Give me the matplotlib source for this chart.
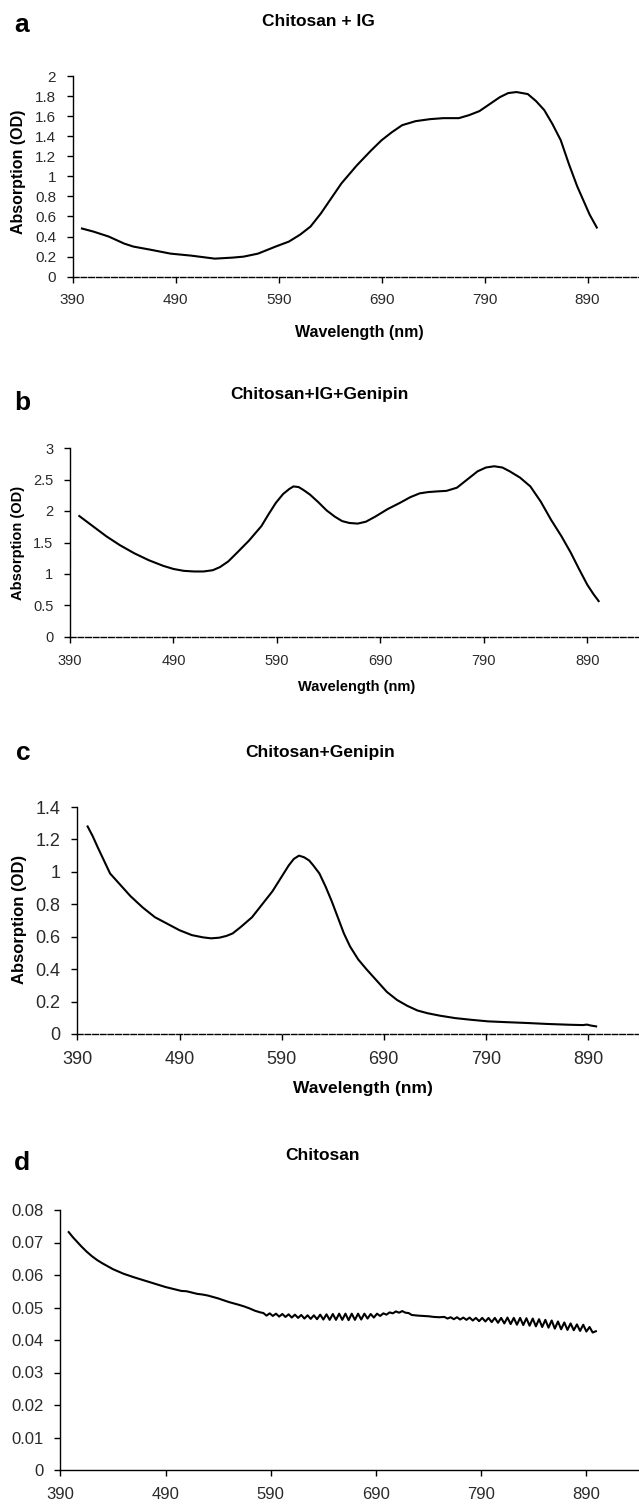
import numpy as np
import matplotlib
matplotlib.use("Agg")
import matplotlib.pyplot as plt

# ---- data ----
wl_a = [399, 410, 425, 440, 449, 465, 485, 505, 528, 545, 556, 570, 587, 600, 611, 621,
        631, 641, 651, 666, 680, 690, 700, 710, 723, 737, 750, 765, 775, 785, 795, 805,
        813, 821, 832, 840, 848, 856, 864, 872, 880, 886, 892, 899]
abs_a = [0.48, 0.45, 0.40, 0.33, 0.30, 0.27, 0.23, 0.21, 0.18, 0.19, 0.20, 0.23, 0.30, 0.35,
         0.42, 0.50, 0.63, 0.78, 0.93, 1.11, 1.26, 1.36, 1.44, 1.51, 1.55, 1.57, 1.58, 1.58,
         1.61, 1.65, 1.72, 1.79, 1.83, 1.84, 1.82, 1.75, 1.66, 1.52, 1.36, 1.12, 0.90, 0.76,
         0.62, 0.49]

wl_b = [399, 412, 425, 438, 452, 466, 480, 490, 500, 510, 519, 528, 535, 543, 551, 563,
        575, 582, 589, 596, 602, 606, 611, 616, 622, 630, 638, 646, 653, 660, 668, 676,
        685, 697, 709, 719, 728, 736, 744, 754, 764, 774, 784, 792, 800, 808, 815, 825,
        835, 845, 855, 865, 874, 882, 890, 896, 901]
abs_b = [1.92, 1.76, 1.60, 1.46, 1.33, 1.22, 1.13, 1.08, 1.05, 1.04, 1.04, 1.06, 1.11, 1.20,
         1.33, 1.53, 1.76, 1.95, 2.13, 2.27, 2.35, 2.39, 2.38, 2.33, 2.26, 2.14, 2.01, 1.91,
         1.84, 1.81, 1.80, 1.83, 1.91, 2.03, 2.13, 2.22, 2.28, 2.30, 2.31, 2.32, 2.37, 2.50,
         2.63, 2.69, 2.71, 2.69, 2.63, 2.53, 2.39, 2.15, 1.86, 1.60, 1.34, 1.08, 0.83, 0.68,
         0.57]

wl_c = [400, 405, 410, 416, 422, 432, 442, 454, 466, 478, 490, 502, 513, 521, 529, 536,
        542, 550, 561, 571, 581, 590, 597, 602, 607, 612, 617, 621, 627, 633, 639, 645,
        651, 657, 665, 673, 683, 693, 703, 713, 723, 733, 745, 760, 775, 792, 810, 830,
        850, 872, 885, 889, 893, 898]
abs_c = [1.28, 1.22, 1.15, 1.07, 0.99, 0.92, 0.85, 0.78, 0.72, 0.68, 0.64, 0.61, 0.596,
         0.59, 0.594, 0.605, 0.62, 0.66, 0.72, 0.80, 0.88, 0.97, 1.04, 1.08, 1.10, 1.09,
         1.07, 1.04, 0.99, 0.91, 0.82, 0.72, 0.62, 0.54, 0.46, 0.40, 0.33, 0.26, 0.21,
         0.174, 0.145, 0.128, 0.113, 0.098, 0.088, 0.078, 0.073, 0.068, 0.062, 0.057,
         0.055, 0.058, 0.052, 0.047]

wl_d = [398, 402, 406, 410, 415, 420, 425, 430, 440, 450, 460, 470, 480, 490, 500, 505,
        510, 515, 520, 525, 530, 540, 550, 560, 565, 570, 575, 580,
        583, 586, 589, 592, 595, 598, 601, 604, 607, 610, 613, 616, 619, 622, 625, 628,
        631, 634, 637, 640, 643, 646, 649, 652, 655, 658, 661, 664, 667, 670, 673, 676,
        679, 682, 685, 688, 691, 694, 697, 700, 703, 706, 709, 712, 715, 718, 721, 724,
        727, 730, 735, 740, 745, 750, 755, 758, 761, 764, 767, 770, 773, 776, 779, 782,
        785, 788, 791, 794, 797, 800, 803, 806, 809, 812, 815, 818, 821, 824, 827, 830,
        833, 836, 839, 842, 845, 848, 851, 854, 857, 860, 863, 866, 869, 872, 875, 878,
        881, 884, 887, 890, 893, 896, 899]
abs_d = [0.0732, 0.0716, 0.0702, 0.0688, 0.0672, 0.0658, 0.0646, 0.0636, 0.0618, 0.0604,
         0.0593, 0.0583, 0.0573, 0.0563, 0.0555, 0.0551, 0.0550, 0.0546, 0.0542, 0.0540,
         0.0537, 0.0528, 0.0517, 0.0508, 0.0503, 0.0497, 0.0490, 0.0485,
         0.0483, 0.0475, 0.0482, 0.0474, 0.0481, 0.0472, 0.0480, 0.0471, 0.0479, 0.0469,
         0.0478, 0.0468, 0.0477, 0.0466, 0.0476, 0.0465, 0.0476, 0.0464, 0.0478, 0.0463,
         0.0479, 0.0462, 0.0480, 0.0462, 0.0481, 0.0462, 0.0481, 0.0461, 0.0481, 0.0462,
         0.0481, 0.0463, 0.0481, 0.0466, 0.0480, 0.0469, 0.0481, 0.0474, 0.0482, 0.0478,
         0.0485, 0.0482, 0.0488, 0.0484, 0.0489, 0.0484, 0.0483, 0.0477, 0.0476, 0.0475,
         0.0474, 0.0473, 0.0471, 0.0470, 0.0471, 0.0466, 0.0470, 0.0464, 0.0470, 0.0463,
         0.0469, 0.0462, 0.0469, 0.0460, 0.0468, 0.0458, 0.0468, 0.0457, 0.0468, 0.0455,
         0.0468, 0.0453, 0.0468, 0.0451, 0.0469, 0.0449, 0.0468, 0.0447, 0.0468, 0.0446,
         0.0467, 0.0444, 0.0466, 0.0442, 0.0464, 0.0440, 0.0462, 0.0438, 0.0460, 0.0435,
         0.0457, 0.0433, 0.0454, 0.0431, 0.0451, 0.0430, 0.0448, 0.0428, 0.0447, 0.0426,
         0.0440, 0.0423, 0.0427]

x_ticks = [390, 490, 590, 690, 790, 890]
y_ticks_a = [0, 0.2, 0.4, 0.6, 0.8, 1, 1.2, 1.4, 1.6, 1.8, 2]
y_ticks_b = [0, 0.5, 1, 1.5, 2, 2.5, 3]
y_ticks_c = [0, 0.2, 0.4, 0.6, 0.8, 1, 1.2, 1.4]
y_ticks_d = [0, 0.01, 0.02, 0.03, 0.04, 0.05, 0.06, 0.07, 0.08]

titles = ["Chitosan + IG", "Chitosan+IG+Genipin", "Chitosan+Genipin", "Chitosan"]
letters = ["a", "b", "c", "d"]

W, H = 639, 1505
plt.rcParams['font.family'] = ['Liberation Sans', 'DejaVu Sans']
narrow = ['Liberation Sans Narrow', 'Liberation Sans']

fig = plt.figure(figsize=(W / 100, H / 100), dpi=100)


def make_panel(rect, wl, vals, yticks, tick_size, dashed=True):
    ax = fig.add_axes(rect)
    ax.plot(wl, vals, color='black', lw=1.5, solid_joinstyle='round')
    ax.set_xlim(390, 940)
    ax.set_ylim(0, yticks[-1])
    ax.set_xticks(x_ticks)
    ax.set_yticks(yticks)
    ax.set_xticklabels([str(t) for t in x_ticks], family=narrow, fontsize=tick_size, color='#2a2a2a')
    ax.set_yticklabels(['%g' % t for t in yticks], family=narrow, fontsize=tick_size, color='#2a2a2a')
    for s in ['top', 'right']:
        ax.spines[s].set_visible(False)
    ax.spines['left'].set_linewidth(1.0)
    ax.spines['bottom'].set_linewidth(1.0)
    if dashed:
        ax.spines['bottom'].set_linestyle((0, (4, 1.5)))
    ax.tick_params(axis='x', direction='out', length=4, width=1, pad=8)
    ax.tick_params(axis='y', direction='out', length=4, width=1, pad=8)
    ax.patch.set_alpha(0)
    return ax


def px(x, y):
    return x / W, 1 - y / H


make_panel([72.7 / W, 1 - 276.7 / H, 1 - 72.7 / W, 200.7 / H], wl_a, abs_a, y_ticks_a, 11)
make_panel([70 / W, 1 - 637 / H, 1 - 70 / W, 189 / H], wl_b, abs_b, y_ticks_b, 10.5)
make_panel([77.4 / W, 1 - 1034 / H, 1 - 77.4 / W, 227 / H], wl_c, abs_c, y_ticks_c, 13)
make_panel([60.3 / W, 1 - 1470 / H, 1 - 60.3 / W, 260 / H], wl_d, abs_d, y_ticks_d, 12, dashed=False)

# panel letters and titles
letter_pos = [(22, 25), (22, 403), (23, 753), (22, 1163)]
title_pos = [(318, 22), (319, 395), (320, 752), (323, 1155)]
for let, (lx, ly), t, (tx, ty) in zip(letters, letter_pos, titles, title_pos):
    fig.text(*px(lx, ly), let, fontsize=19, fontweight='bold', ha='center', va='center')
    fig.text(*px(tx, ty), t, fontsize=12.5, fontweight='bold', ha='center', va='center')

# axis labels (panels a-c only)
xlab_pos = [(359, 332, 11.5), (357, 687, 10.5), (363, 1088, 12.5)]
ylab_pos = [(19, 172, 11.5), (18, 543, 10.5), (20, 919, 12)]
for (x, y, s) in xlab_pos:
    fig.text(*px(x, y), "Wavelength (nm)", fontsize=s, fontweight='bold', ha='center', va='center')
for (x, y, s) in ylab_pos:
    fig.text(*px(x, y), "Absorption (OD)", fontsize=s, fontweight='bold', ha='center',
             va='center', rotation=90)

fig.savefig("out.png", dpi=100, facecolor='white')
